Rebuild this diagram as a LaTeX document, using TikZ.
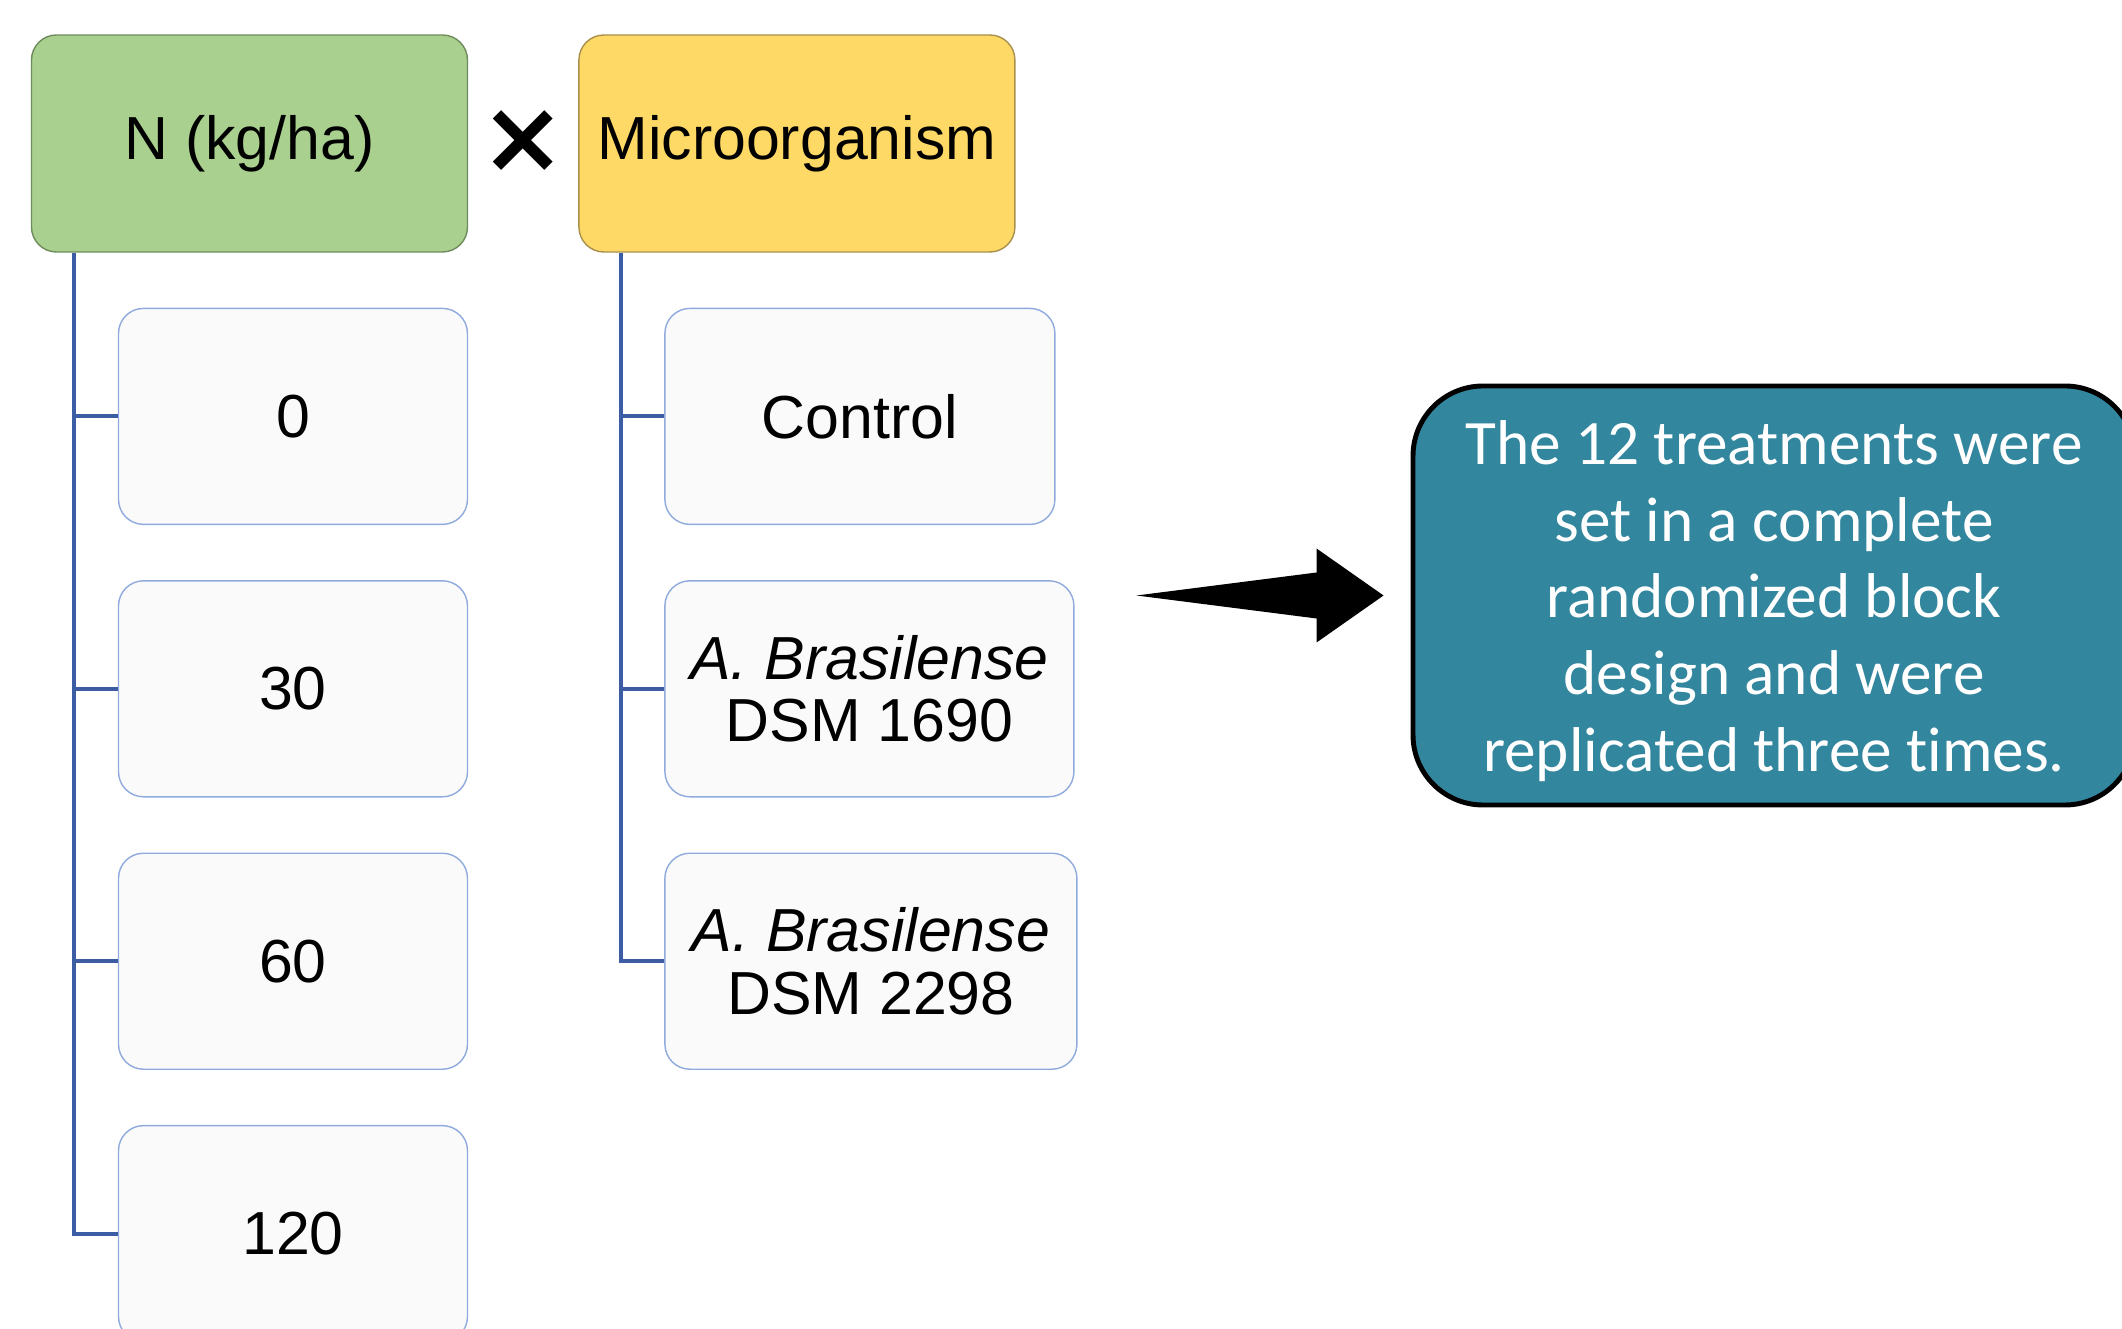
\documentclass[tikz,border=0pt]{standalone}
\usepackage{fontspec}
\setmainfont{Liberation Sans}
\newfontfamily\notefont[Ligatures=NoCommon]{Carlito}
\newfontfamily\symbfont{DejaVu Sans}
\usetikzlibrary{positioning,calc}
\definecolor{headgreen}{HTML}{A9D08E}
\definecolor{headgreenline}{HTML}{6F8C5E}
\definecolor{headyellow}{HTML}{FFD966}
\definecolor{headyellowline}{HTML}{A8904C}
\definecolor{treeblue}{HTML}{3C5DA3}
\definecolor{leafline}{HTML}{8FAADC}
\definecolor{leaffill}{HTML}{FAFAFA}
\definecolor{noteteal}{HTML}{32869E}

\begin{document}
\begin{tikzpicture}[
  font=\fontsize{17.3}{17.8}\selectfont,
  head/.style={draw, rounded corners=2.5mm, align=center, inner sep=0pt, minimum width=4.36cm, minimum height=2.17cm},
  leaf/.style={draw=leafline, fill=leaffill, rounded corners=2.5mm, align=center, inner sep=0pt, minimum height=2.16cm},
  tree/.style={draw=treeblue, line width=1.1pt},
  note/.style={draw, line width=1.4pt, fill=noteteal, text=white, rounded corners=7mm, align=center, inner sep=0pt,
    minimum width=7.22cm, minimum height=4.19cm, font=\notefont\fontsize{18}{21.8}\selectfont}
]
\useasboundingbox (0,0) rectangle (21.22,-13.29);
\clip (0,0) rectangle (21.22,-13.29);
% factor headers
\node[head, fill=headgreen, draw=headgreenline] (nhead) at (2.495,-1.435) {N (kg/ha)};
\node[head, fill=headyellow, draw=headyellowline, right=1.1cm of nhead] (mhead) {Microorganism};
\node[font=\symbfont\bfseries\fontsize{29}{29}\selectfont, inner sep=0pt] (times) at ($(nhead.east)!0.5!(mhead.west)+(0,0.02)$) {×};
% N levels
\node[leaf, minimum width=3.49cm, below=5.5mm of nhead.south east, anchor=north east] (n0) {0};
\node[leaf, minimum width=3.49cm, below=5.5mm of n0] (n30) {30};
\node[leaf, minimum width=3.49cm, below=5.5mm of n30] (n60) {60};
\node[leaf, minimum width=3.49cm, below=5.5mm of n60] (n120) {120};
% microorganisms
\node[leaf, minimum width=3.90cm, below=5.5mm of mhead.south west, anchor=north west, xshift=8.6mm] (ctrl) {Control};
\node[leaf, minimum width=4.09cm, below=5.5mm of ctrl.south west, anchor=north west] (ab1690) {\textit{A. Brasilense}\\DSM 1690};
\node[leaf, minimum width=4.12cm, below=5.5mm of ab1690.south west, anchor=north west] (ab2298) {\textit{A. Brasilense}\\DSM 2298};
% tree lines
\coordinate (ltrunk) at ($(nhead.south west)+(0.43,0)$);
\coordinate (mtrunk) at ($(mhead.south west)+(0.43,0)$);
\draw[tree] (ltrunk) |- (n120.west);
\draw[tree] (ltrunk |- n0.west) -- (n0.west);
\draw[tree] (ltrunk |- n30.west) -- (n30.west);
\draw[tree] (ltrunk |- n60.west) -- (n60.west);
\draw[tree] (mtrunk) |- (ab2298.west);
\draw[tree] (mtrunk |- ctrl.west) -- (ctrl.west);
\draw[tree] (mtrunk |- ab1690.west) -- (ab1690.west);
% design note and arrow
\node[note] (design) at (17.74,-5.955) {\raisebox{-0.7mm}[\height][\depth]{\begin{tabular}{@{}c@{}}The 12 treatments were\\set in a complete\\randomized block\\design and were\\replicated three times.\end{tabular}}};
\coordinate[left=2.7mm of design.west] (tip);
\fill (tip) -- ++(-0.67,0.47) -- ++(0,-0.24) -- ++(-1.8,-0.23) -- ++(1.8,-0.23) -- ++(0,-0.24) -- cycle;
\end{tikzpicture}
\end{document}
